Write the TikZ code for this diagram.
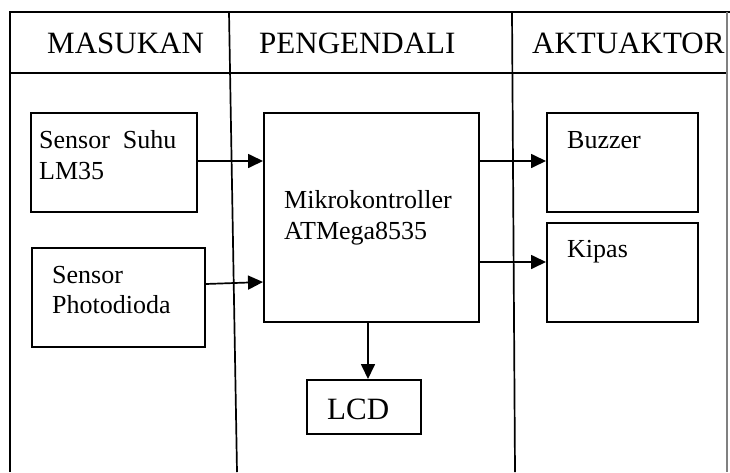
\documentclass[tikz,border=0pt]{standalone}
\usepackage{fontspec}
\setmainfont{Liberation Serif}
\usetikzlibrary{arrows.meta}
\begin{document}
\begin{tikzpicture}[x=1pt,y=-1pt,
  frame/.style={line width=1.7pt,black},
  box/.style={draw,line width=1.7pt,inner sep=0pt,anchor=north west},
  txt/.style={anchor=base west,inner sep=0pt,font=\fontsize{26}{30}\selectfont},
  head/.style={anchor=base west,inner sep=0pt,font=\fontsize{31}{36}\selectfont},
  arr/.style={line width=1.7pt,-{Triangle[length=15pt,width=14pt]}}]
\useasboundingbox (0,0) rectangle (730,472);
% frame
\coordinate (tl) at (10,12);
\coordinate (tr) at (730,12);
\coordinate (bl) at (10,472);
\coordinate (hl) at (10,73);
\coordinate (hr) at (727,73);
\coordinate (d1t) at (229,12);
\coordinate (d1b) at (237,472);
\coordinate (d2t) at (512,12);
\coordinate (d2b) at (515,472);
\coordinate (rt) at (727,12);
\coordinate (rb) at (727,472);
\draw[frame] (bl) -- (tl) -- (tr);
\draw[frame] (hl) -- (hr);
\draw[frame] (d1t) -- (d1b);
\draw[frame] (d2t) -- (d2b);
\draw[line width=1.4pt,gray] (rt) -- (rb);
% headers
\node[head] (h1) at (47,53) {MASUKAN};
\node[head] (h2) at (259,53) {PENGENDALI};
\node[head] (h3) at (532,53) {AKTUAKTOR};
% boxes
\node[box,minimum width=166pt,minimum height=99pt] (suhu) at (30,112) {};
\node[box,minimum width=173pt,minimum height=99pt] (photo) at (31,247) {};
\node[box,minimum width=215pt,minimum height=209pt] (mcu) at (263,112) {};
\node[box,minimum width=151pt,minimum height=99pt] (buzz) at (546,112) {};
\node[box,minimum width=151pt,minimum height=99pt] (kipas) at (546,222) {};
\node[box,minimum width=114pt,minimum height=54pt] (lcd) at (306,379) {};
% texts
\node[txt] (t1) at (39,148) {Sensor\ \ Suhu};
\node[txt] (t2) at (39,179) {LM35};
\node[txt] (t3) at (52,283) {Sensor};
\node[txt] (t4) at (52,313) {Photodioda};
\node[txt] (t5) at (284,208) {Mikrokontroller};
\node[txt] (t6) at (284,239) {ATMega8535};
\node[txt] (t7) at (567,148) {Buzzer};
\node[txt] (t8) at (567,257) {Kipas};
\node[head] (t9) at (327,419) {LCD};
% arrows
\draw[arr] (suhu.east |- 0,161) -- (mcu.west |- 0,161);
\draw[arr] (photo.east |- 0,284) -- (mcu.west |- 0,282);
\draw[arr] (mcu.east |- 0,161) -- (buzz.west |- 0,161);
\draw[arr] (mcu.east |- 0,262) -- (kipas.west |- 0,262);
\draw[arr] (mcu.south -| 368,0) -- (lcd.north -| 368,0);
\end{tikzpicture}
\end{document}
